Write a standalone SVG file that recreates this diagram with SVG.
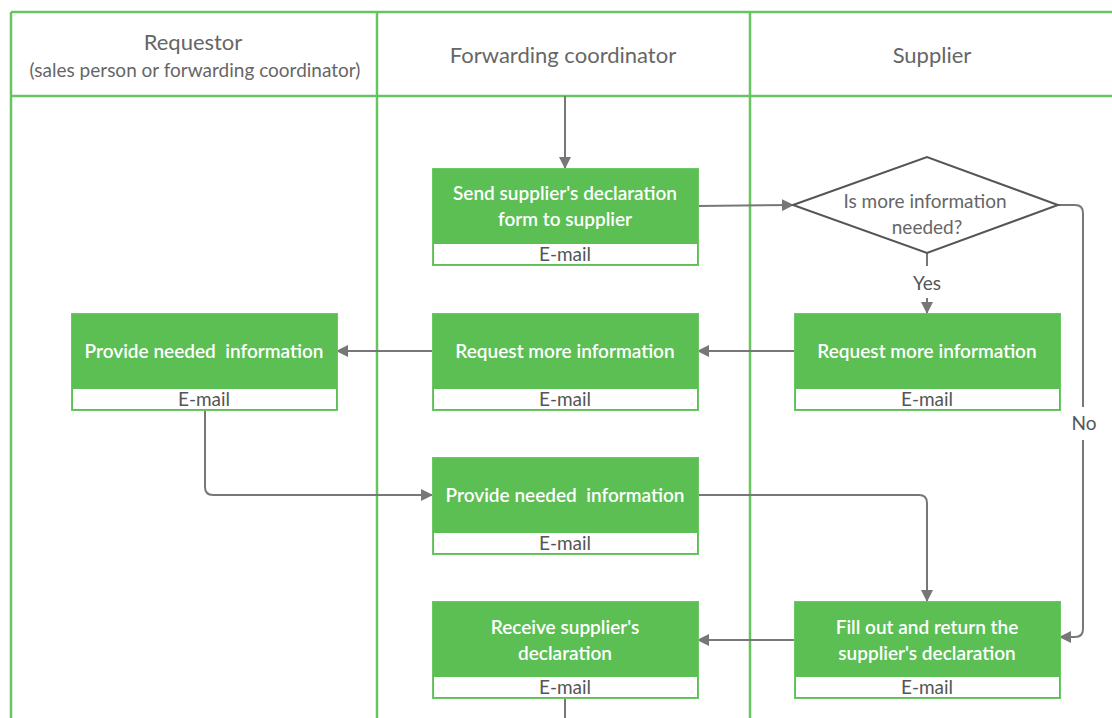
<svg xmlns="http://www.w3.org/2000/svg" width="1112" height="718" viewBox="0 0 1112 718">
<defs>
<marker id="arr" markerWidth="12" markerHeight="12" refX="11" refY="6" orient="auto" markerUnits="userSpaceOnUse">
<path d="M0,0 L12,6 L0,12 Z" fill="#777"/>
</marker>
<style>
.lane{fill:none;stroke:#66c560;stroke-width:2.5}
.hdr{font-family:Lato,"Liberation Sans",sans-serif;font-size:22px;fill:#666;text-anchor:middle}
.sub{font-family:Lato,"Liberation Sans",sans-serif;font-size:19px;fill:#666;text-anchor:middle}
.box{fill:#5bbf53;stroke:#6cc865;stroke-width:1}
.band{fill:#fff}
.t{font-family:Lato,"Liberation Sans",sans-serif;font-size:19px;font-weight:600;fill:#fff;text-anchor:middle}
.em{font-family:Lato,"Liberation Sans",sans-serif;font-size:19px;fill:#555;text-anchor:middle}
.c{fill:none;stroke:#777;stroke-width:2}
.lbl{font-family:Lato,"Liberation Sans",sans-serif;font-size:19px;fill:#555;text-anchor:middle}
.dia{fill:#fff;stroke:#555;stroke-width:2}
.dt{font-family:Lato,"Liberation Sans",sans-serif;font-size:19px;fill:#666;text-anchor:middle}
</style>
</defs>
<rect width="1112" height="718" fill="#fff"/>
<g id="lanes">
<line class="lane" x1="11" y1="12" x2="1112" y2="12"/>
<line class="lane" x1="11" y1="96" x2="1112" y2="96"/>
<line class="lane" x1="11" y1="12" x2="11" y2="718"/>
<line class="lane" x1="377" y1="12" x2="377" y2="718"/>
<line class="lane" x1="750" y1="12" x2="750" y2="718"/>
<text class="hdr" x="193" y="50">Requestor</text>
<text class="sub" x="195" y="77">(sales person or forwarding coordinator)</text>
<text class="hdr" x="563" y="63">Forwarding coordinator</text>
<text class="hdr" x="932" y="63">Supplier</text>
</g>
<g id="connectors">
<line class="c" x1="565" y1="96" x2="565" y2="168" marker-end="url(#arr)"/>
<line class="c" x1="698" y1="206" x2="793" y2="205" marker-end="url(#arr)"/>
<line class="c" x1="927" y1="253" x2="927" y2="266"/>
<line class="c" x1="927" y1="298" x2="927" y2="313" marker-end="url(#arr)"/>
<text class="lbl" x="927" y="290">Yes</text>
<path class="c" d="M1058,205 H1075 Q1083,205 1083,213 V407"/>
<path class="c" d="M1083,440 V629 Q1083,637 1075,637 H1060" marker-end="url(#arr)"/>
<text class="lbl" x="1084" y="430">No</text>
<line class="c" x1="794" y1="351" x2="698" y2="351" marker-end="url(#arr)"/>
<line class="c" x1="432" y1="351" x2="337" y2="351" marker-end="url(#arr)"/>
<path class="c" d="M205,410 V487 Q205,495 213,495 H432" marker-end="url(#arr)"/>
<path class="c" d="M698,495 H919 Q927,495 927,503 V601" marker-end="url(#arr)"/>
<line class="c" x1="794" y1="640" x2="698" y2="640" marker-end="url(#arr)"/>
<line class="c" x1="565" y1="698" x2="565" y2="718"/>
</g>
<g id="send">
<rect class="box" x="432.5" y="168.5" width="266" height="97"/>
<rect class="band" x="434" y="244" width="263" height="20"/>
<text class="t" x="565" y="200">Send supplier's declaration</text>
<text class="t" x="565" y="226">form to supplier</text>
<text class="em" x="565" y="261">E-mail</text>
</g>
<g id="decision">
<polygon class="dia" points="793,205 927,157 1058,205 927,253"/>
<text class="dt" x="925" y="208">Is more information</text>
<text class="dt" x="927" y="234">needed?</text>
</g>
<g id="reqSupplier">
<rect class="box" x="794.5" y="313.5" width="266" height="97"/>
<rect class="band" x="796" y="389" width="263" height="20"/>
<text class="t" x="927" y="358">Request more information</text>
<text class="em" x="927" y="406">E-mail</text>
</g>
<g id="reqCoordinator">
<rect class="box" x="432.5" y="313.5" width="266" height="97"/>
<rect class="band" x="434" y="389" width="263" height="20"/>
<text class="t" x="565" y="358">Request more information</text>
<text class="em" x="565" y="406">E-mail</text>
</g>
<g id="provideRequestor">
<rect class="box" x="71.5" y="313.5" width="266" height="97"/>
<rect class="band" x="73" y="389" width="263" height="20"/>
<text class="t" x="204" y="358" xml:space="preserve">Provide needed  information</text>
<text class="em" x="204" y="406">E-mail</text>
</g>
<g id="provideCoordinator">
<rect class="box" x="432.5" y="457.5" width="266" height="97"/>
<rect class="band" x="434" y="533" width="263" height="20"/>
<text class="t" x="565" y="502" xml:space="preserve">Provide needed  information</text>
<text class="em" x="565" y="550">E-mail</text>
</g>
<g id="receive">
<rect class="box" x="432.5" y="601.5" width="266" height="97"/>
<rect class="band" x="434" y="677" width="263" height="20"/>
<text class="t" x="565" y="634">Receive supplier's</text>
<text class="t" x="565" y="660">declaration</text>
<text class="em" x="565" y="694">E-mail</text>
</g>
<g id="fillOut">
<rect class="box" x="794.5" y="601.5" width="266" height="97"/>
<rect class="band" x="796" y="677" width="263" height="20"/>
<text class="t" x="927" y="634">Fill out and return the</text>
<text class="t" x="927" y="660">supplier's declaration</text>
<text class="em" x="927" y="694">E-mail</text>
</g>
</svg>
